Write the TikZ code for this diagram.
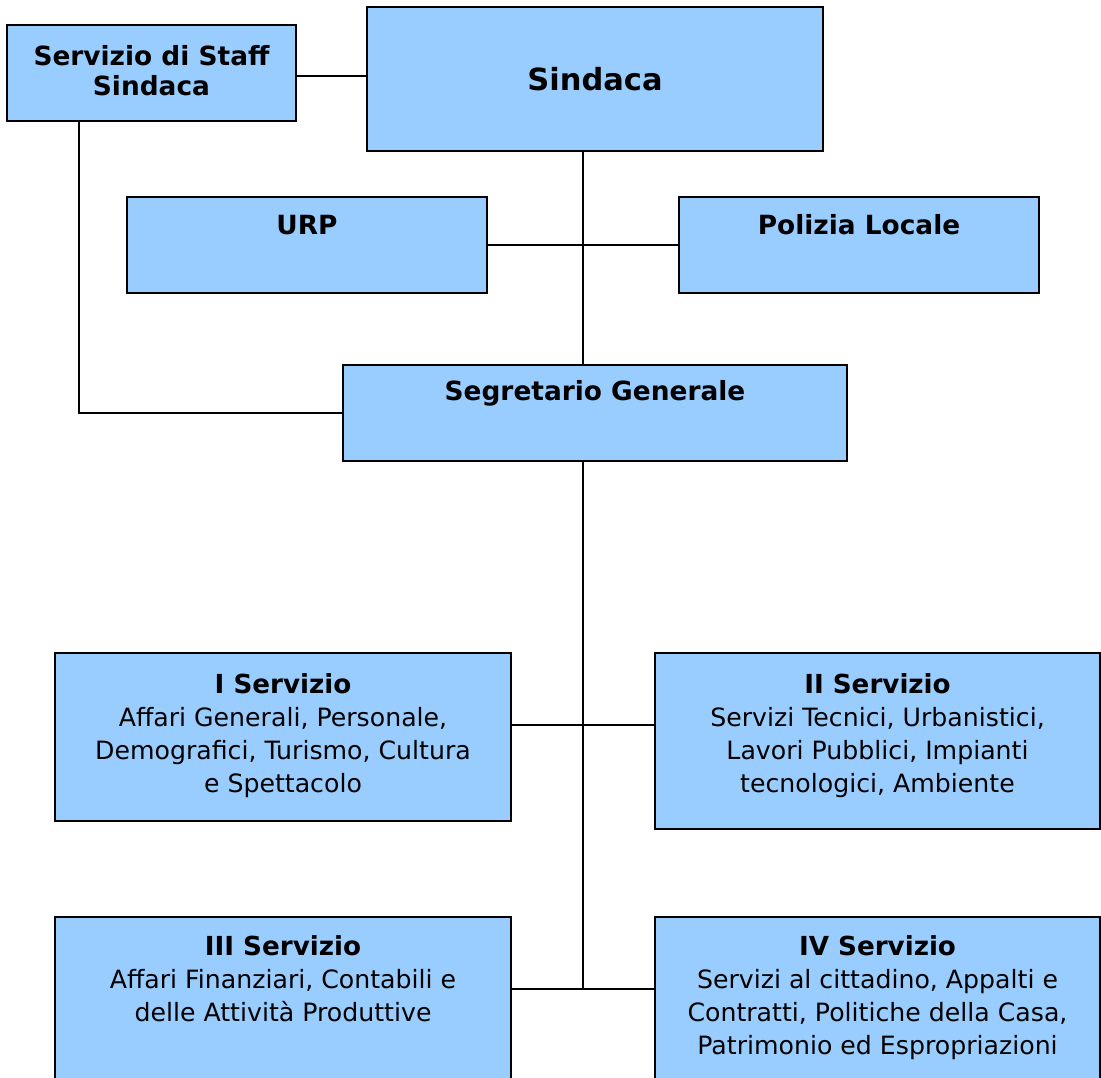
\documentclass[tikz,border=0pt]{standalone}
\usepackage{fontspec}
\setmainfont{DejaVu Sans}
\definecolor{boxblue}{RGB}{153,204,255}
\begin{document}
\begin{tikzpicture}[x=1pt,y=-1pt,
  box/.style={draw=black, fill=boxblue, line width=2pt, inner sep=0pt, outer sep=0pt},
  conn/.style={draw=black, line width=1.8pt},
  body/.style={align=center, inner sep=0pt, font=\fontsize{25.2}{33}\selectfont},
  head/.style={align=center, inner sep=0pt, font=\bfseries\fontsize{26.4}{30}\selectfont},
  big/.style={inner sep=0pt, font=\bfseries\fontsize{30.5}{36}\selectfont}]
\clip (0,0) rectangle (1101,1078);
\fill[white] (0,0) rectangle (1101,1078);

\coordinate (spineTop) at (583,151);
\coordinate (spineMid) at (583,365);
\coordinate (spineLow) at (583,461);
\coordinate (spineEnd) at (583,989);
\coordinate (staffDown) at (79,121);
\coordinate (j1L) at (511,725);
\coordinate (j1R) at (655,725);
\coordinate (j2L) at (511,989);
\coordinate (j2R) at (655,989);

% boxes
\node[box, minimum width=289pt, minimum height=96pt] (staff) at (151.5,73) {};
\node[box, minimum width=456pt, minimum height=144pt] (sindaca) at (595,79) {};
\node[box, minimum width=360pt, minimum height=96pt] (urp) at (307,245) {};
\node[box, minimum width=360pt, minimum height=96pt] (polizia) at (859,245) {};
\node[box, minimum width=504pt, minimum height=96pt] (segr) at (595,413) {};
\node[box, minimum width=456pt, minimum height=168pt] (s1) at (283,737) {};
\node[box, minimum width=445pt, minimum height=176pt] (s2) at (877.5,741) {};
\node[box, minimum width=456pt, minimum height=180pt] (s3) at (283,1007) {};
\node[box, minimum width=445pt, minimum height=180pt] (s4) at (877.5,1007) {};

% connectors
\draw[conn] (staff.east |- 0,76) -- (sindaca.west |- 0,76);
\draw[conn] (spineTop) -- (spineMid);
\draw[conn] (urp.east) -- (polizia.west);
\draw[conn] (staffDown) |- (segr.west);
\draw[conn] (spineLow) -- (spineEnd);
\draw[conn] (j1L) -- (j1R);
\draw[conn] (j2L) -- (j2R);

% texts
\node[head] (staffT) at (151.5,71) {Servizio di Staff\\Sindaca};
\node[big] (sindT) at (595,79) {Sindaca};
\node[head] (urpT) at (307,225) {URP};
\node[head] (polT) at (859,225) {Polizia Locale};
\node[head] (segrT) at (595,393) {Segretario Generale};
\node[body, anchor=north] (s1T) at (283,673) {{\bfseries\fontsize{26.2}{33}\selectfont I Servizio}\\Affari Generali, Personale,\\Demografici, Turismo, Cultura\\e Spettacolo};
\node[body, anchor=north] (s2T) at (877.5,673) {{\bfseries\fontsize{26.2}{33}\selectfont II Servizio}\\Servizi Tecnici, Urbanistici,\\Lavori Pubblici, Impianti\\tecnologici, Ambiente};
\node[body, anchor=north] (s3T) at (283,935) {{\bfseries\fontsize{26.2}{33}\selectfont III Servizio}\\Affari Finanziari, Contabili e\\delle Attività Produttive};
\node[body, anchor=north] (s4T) at (877.5,935) {{\bfseries\fontsize{26.2}{33}\selectfont IV Servizio}\\Servizi al cittadino, Appalti e\\Contratti, Politiche della Casa,\\Patrimonio ed Espropriazioni};
\end{tikzpicture}
\end{document}
